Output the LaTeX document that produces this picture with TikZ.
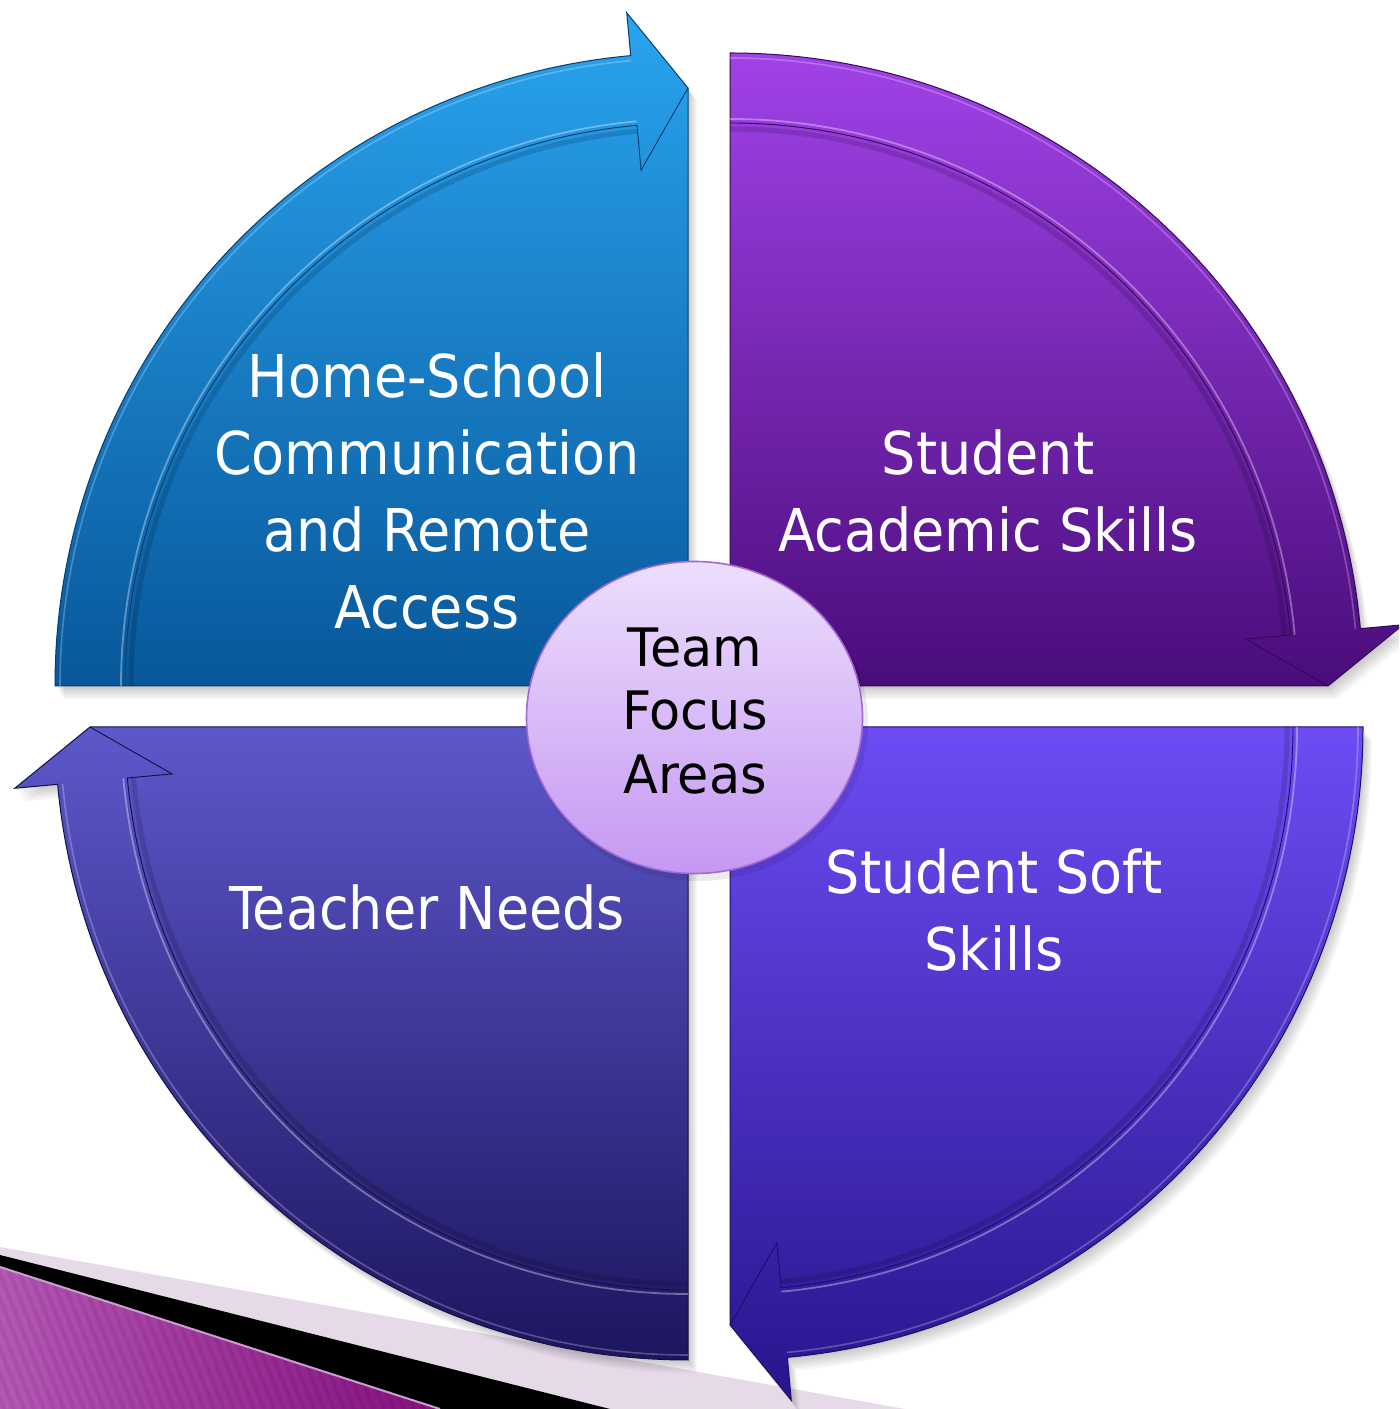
\documentclass[tikz,border=0pt]{standalone}
\usepackage{fontspec}
\setmainfont{DejaVu Sans}
\newfontfamily\quadfont{DejaVu Sans}[FakeStretch=0.915]
\newfontfamily\hubfont{DejaVu Sans}[FakeStretch=0.96]
\usetikzlibrary{shapes.geometric}
\definecolor{tltop}{HTML}{2AA4F0}
\definecolor{tlbot}{HTML}{08579A}
\definecolor{trtop}{HTML}{A042E8}
\definecolor{trbot}{HTML}{4A0C7A}
\definecolor{brtop}{HTML}{6D4CF4}
\definecolor{brbot}{HTML}{28148C}
\definecolor{bltop}{HTML}{5D58CB}
\definecolor{blbot}{HTML}{1C155F}
\definecolor{hubtop}{HTML}{EDDEFD}
\definecolor{hubbot}{HTML}{C598F2}
\definecolor{hubline}{HTML}{A268D6}
\definecolor{lav}{HTML}{E6DAE8}
\definecolor{magl}{HTML}{B657B6}
\definecolor{magr}{HTML}{84107F}
\definecolor{magline}{HTML}{C8A0CE}
\newcommand\quadshape[2]{%
  \path[#1] (0,0) -- (#2:633) arc[start angle=#2, end angle=#2-84.8, radius=633]
    -- ({#2-84.8}:676) -- ({#2-90}:598) -- cycle;}
\newcommand\quadshadow[3]{%
  \foreach \s in {1,...,6}{%
    \begin{scope}[shift={(#1+\s*1.5,#2-\s*2.2)}]
      \quadshape{fill=black, opacity=0.035}{#3}
    \end{scope}}}
\newcommand\drawquad[5]{%
  \begin{scope}[shift={(#1,#2)}]
    \quadshape{top color=#4, bottom color=#5, draw=#5!70!black, line width=0.5pt}{#3}
    \draw[black, opacity=0.14, line width=2.5pt] (#3:557) arc[start angle=#3, end angle=#3-84.8, radius=557];
    \draw[white, opacity=0.35, line width=0.9pt] (#3:567) arc[start angle=#3, end angle=#3-84.8, radius=567];
    \draw[white, opacity=0.25, line width=0.8pt] (#3:628) arc[start angle=#3, end angle=#3-84.8, radius=628];
    \draw[#5!70!black, line width=0.45pt] (#3:563) arc[start angle=#3, end angle=#3-84.8, radius=563]
      -- ({#3-84.8}:518) -- ({#3-90}:598);
  \end{scope}}
\tikzset{
  qtext/.style={text=white, align=center, inner sep=0pt, font=\quadfont\fontsize{29.5}{38.5}\selectfont},
  hubtext/.style={text=black, align=center, inner sep=0pt, font=\hubfont\fontsize{26.5}{31.8}\selectfont},
  hubshape/.style={ellipse, minimum width=168pt, minimum height=156pt, inner sep=0pt,
    top color=hubtop, bottom color=hubbot, draw=hubline, line width=0.8pt}
}
\begin{document}
\begin{tikzpicture}[x=0.5pt,y=0.5pt]
\useasboundingbox (0,0) rectangle (1399,1409);
\clip (0,0) rectangle (1399,1409);
\fill[white] (0,0) rectangle (1399,1409);
% corner decoration
\fill[lav] (0,162) -- (905,0) -- (0,0) -- cycle;
\fill[black] (0,154) -- (610,0) -- (0,0) -- cycle;
\shade[left color=magl, right color=magr] (0,142) -- (440,0) -- (0,0) -- cycle;
\begin{scope}
  \clip (0,142) -- (440,0) -- (0,0) -- cycle;
  \foreach \i in {-120,-110,...,600}
    \draw[black, opacity=0.07, line width=2pt] (\i,160) -- ++(64,-160);
\end{scope}
\draw[magline, line width=1pt] (0,142) -- (440,0);
% shadows
\quadshadow{688}{723}{180}
\quadshadow{730}{723}{90}
\quadshadow{730}{682}{0}
\quadshadow{688}{682}{270}
% quadrants
\drawquad{688}{723}{180}{tltop}{tlbot}
\drawquad{730}{723}{90}{trtop}{trbot}
\drawquad{730}{682}{0}{brtop}{brbot}
\drawquad{688}{682}{270}{bltop}{blbot}
% labels
\node[qtext] (tl) at (427,918) {Home-School\\Communication\\and Remote\\Access};
\node[qtext] (tr) at (988,918) {Student\\Academic Skills};
\node[qtext] (br) at (994,499) {Student Soft\\Skills};
\node[qtext] (bl) at (427,501) {Teacher Needs};
% hub
\fill[black, opacity=0.08] (698,686) ellipse [x radius=170, y radius=158];
\node[hubshape] (hub) at (694.5,691.5) {};
\node[hubtext] (hubl) at (695,698) {Team\\Focus\\Areas};
\end{tikzpicture}
\end{document}
